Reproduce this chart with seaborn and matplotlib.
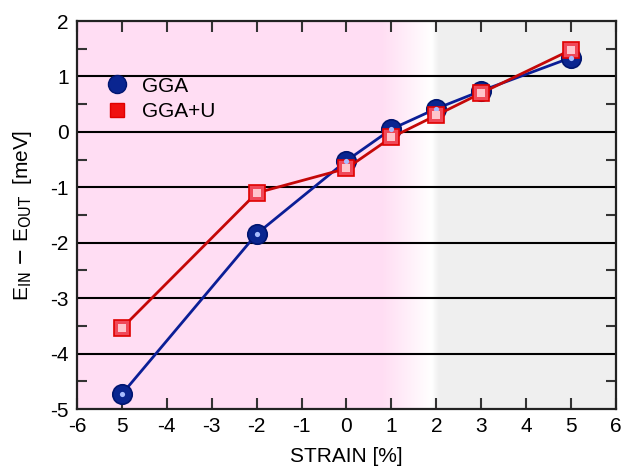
import numpy as np
import pandas as pd
import matplotlib
matplotlib.use("Agg")
import matplotlib.pyplot as plt
import seaborn as sns
from matplotlib.lines import Line2D

strain = [-5, -2, 0, 1, 2, 3, 5]
gga = [-4.73, -1.84, -0.52, 0.05, 0.42, 0.74, 1.34]
gga_u = [-3.54, -1.10, -0.66, -0.10, 0.30, 0.70, 1.48]
xtick_vals = [-6, -5, -4, -3, -2, -1, 0, 1, 2, 3, 4, 5, 6]
xtick_labels = ["-6", "5", "-4", "-3", "-2", "-1", "0", "1", "2", "3", "4", "5", "6"]
ytick_vals = [-5, -4, -3, -2, -1, 0, 1, 2]
ytick_labels = ["-5", "-4", "-3", "-2", "-1", "0", "1", "2"]

df = pd.DataFrame({
    "strain": strain * 2,
    "E": gga + gga_u,
    "method": ["GGA"] * len(strain) + ["GGA+U"] * len(strain),
})

sns.set_theme(style="white")
plt.rcParams["font.family"] = ["Liberation Sans", "DejaVu Sans"]
plt.rcParams["text.color"] = "black"
plt.rcParams["axes.labelcolor"] = "black"
plt.rcParams["xtick.color"] = "black"
plt.rcParams["ytick.color"] = "black"

FS = 15

fig = plt.figure(figsize=(6.34, 4.68), dpi=100)
ax = fig.add_axes([0.1215, 0.126, 0.85, 0.829])

# background gradient
xs = np.linspace(-6, 6, 1200)
pink = np.array([1.0, 0.867, 0.953])
white = np.array([1.0, 1.0, 1.0])
gray = np.array([0.941, 0.941, 0.941])
img = np.zeros((1, len(xs), 3))
for i, xv in enumerate(xs):
    if xv < 0.78:
        c = pink
    elif xv < 1.9:
        t = (xv - 0.78) / (1.9 - 0.78)
        c = pink * (1 - t) + white * t
    elif xv < 2.05:
        t = (xv - 1.9) / 0.15
        c = white * (1 - t) + gray * t
    else:
        c = gray
    img[0, i] = c
ax.imshow(img, extent=[-6, 6, -5, 2], aspect="auto", zorder=0, interpolation="bilinear")

for yv in range(-4, 2):
    ax.axhline(yv, color="black", lw=1.5, zorder=1)

colors = {"GGA": "#0b1e96", "GGA+U": "#c40808"}
sns.lineplot(data=df, x="strain", y="E", hue="method", palette=colors,
             style="method", markers={"GGA": "o", "GGA+U": "s"}, dashes=False,
             lw=2, ax=ax, legend=False, zorder=3,
             markeredgewidth=1.2)
for line, mk in zip(ax.get_lines()[-2:], ["o", "s"]):
    if mk == "o":
        line.set_markersize(14)
        line.set_markerfacecolor("#0a2590")
        line.set_markeredgecolor("#001570")
    else:
        line.set_markersize(11)
        line.set_markerfacecolor("#f04858")
        line.set_markeredgecolor("#e00000")
# highlights
sns.scatterplot(x=strain, y=gga, color="#a8bcff", s=14, ax=ax, zorder=4, linewidth=0, legend=False)
sns.scatterplot(x=strain, y=gga_u, color="#ffc4cc", marker="s", s=26, ax=ax, zorder=4, linewidth=0, legend=False)

ax.set_xlim(-6, 6)
ax.set_ylim(-5, 2)
ax.set_xticks(xtick_vals)
ax.set_xticklabels(xtick_labels, fontsize=FS)
ax.set_yticks(ytick_vals)
ax.set_yticklabels(ytick_labels, fontsize=FS)
ax.set_yticks(np.arange(-4.5, 2, 1.0), minor=True)
ax.tick_params(axis="x", which="major", direction="in", length=8, width=1.5,
               top=True, bottom=True, color="#333333", pad=6)
ax.tick_params(axis="y", which="major", direction="in", length=0, pad=6)
ax.tick_params(axis="y", which="minor", direction="in", length=7, width=1.5,
               left=True, right=True, color="#333333")
for s in ax.spines.values():
    s.set_color("#222222")
    s.set_linewidth(1.6)

ax.set_xlabel("STRAIN [%]", fontsize=FS, labelpad=8)
ax.set_ylabel(r"E$_{\mathrm{IN}}$ $-$ E$_{\mathrm{OUT}}$  [meV]", fontsize=FS, labelpad=12)

handles = [
    Line2D([], [], marker="o", color="none", markerfacecolor="#0a2590",
           markeredgecolor="#001570", markersize=13, label="GGA"),
    Line2D([], [], marker="s", color="none", markerfacecolor="#f01010",
           markeredgecolor="#e00000", markersize=10, label="GGA+U"),
]
ax.legend(handles=handles, loc="upper left", bbox_to_anchor=(0.0, 0.905),
          frameon=False, fontsize=FS, handletextpad=0.2, labelspacing=0.3)

fig.savefig("out.png", dpi=100)
